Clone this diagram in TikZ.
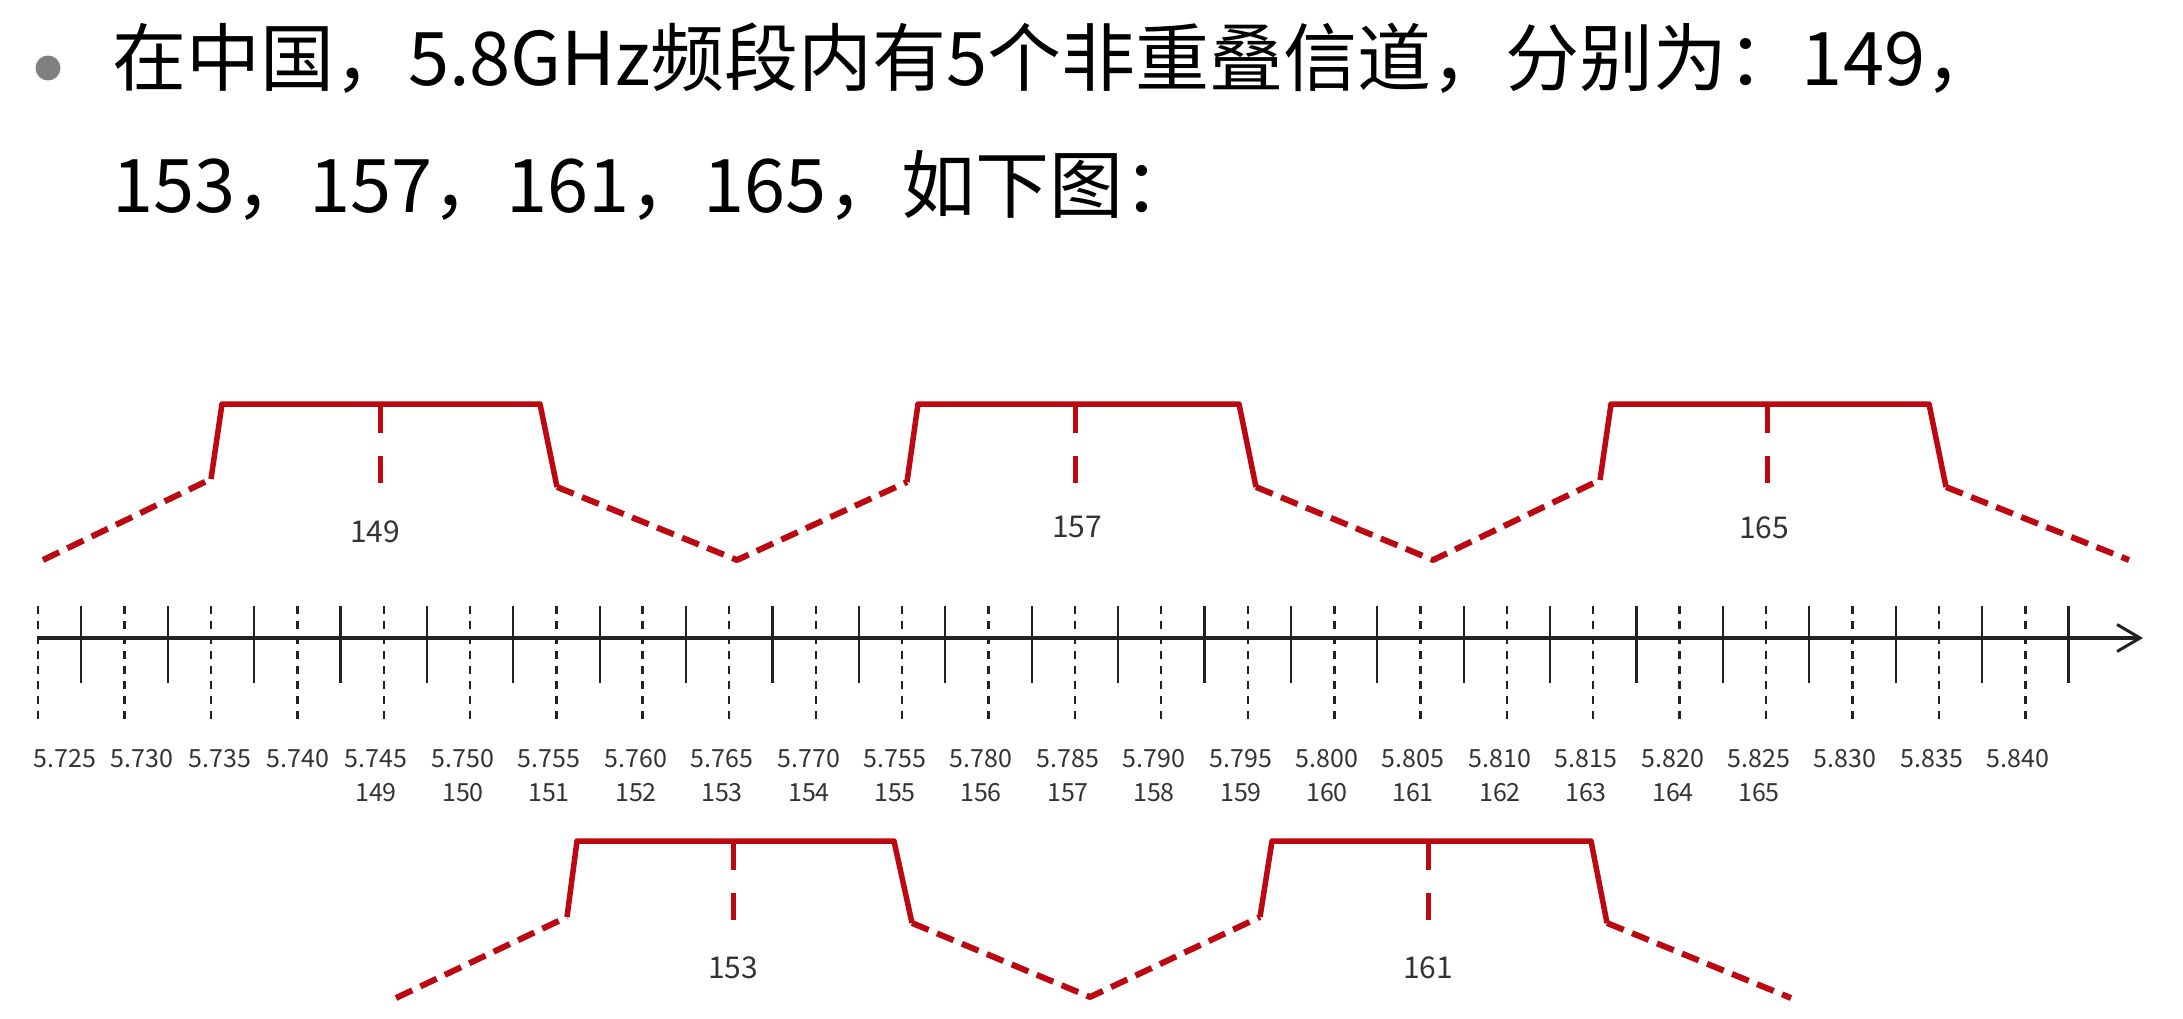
\documentclass[tikz,border=0pt]{standalone}
\usepackage{fontspec}
\setmainfont{Noto Sans CJK SC}
\usetikzlibrary{arrows.meta}
\definecolor{wred}{RGB}{188,8,16}
\definecolor{axisgray}{RGB}{34,34,34}
\definecolor{labelgray}{RGB}{51,51,51}
\definecolor{bulletgray}{RGB}{128,128,128}
\begin{document}
\begin{tikzpicture}[x=1pt,y=-1pt,
  bodytext/.style={anchor=base west, inner sep=0pt, font=\fontsize{74}{86}\selectfont, text=black},
  axisline/.style={draw=axisgray, line width=3.2pt},
  dtick/.style={draw=axisgray, line width=2.2pt, dash pattern=on 8pt off 7pt},
  dtickbold/.style={draw=axisgray, line width=3pt, dash pattern=on 8pt off 7pt},
  stick/.style={draw=axisgray, line width=2.2pt},
  flabel/.style={anchor=base, inner sep=0pt, font=\fontsize{25}{30}\selectfont, text=labelgray},
  blabel/.style={anchor=center, inner sep=0pt, font=\fontsize{30}{36}\selectfont, text=labelgray},
  rsolid/.style={draw=wred, line width=5.5pt, line join=round},
  rdash/.style={draw=wred, line width=6pt, dash pattern=on 18pt off 9pt, line join=round},
  rcdash/.style={draw=wred, line width=5pt, dash pattern=on 29pt off 23pt on 40pt}
]
\useasboundingbox (0,0) rectangle (2183,1019);
\fill[white] (0,0) rectangle (2183,1019);

% bullet and heading text
\fill[bulletgray] (48,68) circle (12.5);
\node[bodytext] (line1) at (112,86) {在中国，5.8GHz频段内有5个非重叠信道，分别为：149，};
\node[bodytext] (line2) at (112,212) {153，157，161，165，如下图：};

% axis
\coordinate (axstart) at (38,638);
\coordinate (axend) at (2143,638);
\draw[axisline, -{Straight Barb[length=23pt,width=27pt,line width=3pt]}] (axstart) -- (axend);
\foreach \i in {0,...,23} {
  \pgfmathsetmacro\tx{38+86.4*\i}
  \pgfmathtruncatemacro\md{mod(\i,4)}
  \ifnum\md=3
    \draw[dtickbold] (\tx,606) -- (\tx,723);
  \else
    \draw[dtick] (\tx,606) -- (\tx,723);
  \fi
  \draw[stick] (\tx+43.2,606) -- (\tx+43.2,683);
}

% frequency labels
\foreach \lx/\lab [count=\k] in {65/5.725,142/5.730,220/5.735,298/5.740,376/5.745,463/5.750,549/5.755,636/5.760,722/5.765,809/5.770,895/5.755,981/5.780,1068/5.785,1154/5.790,1241/5.795,1327/5.800,1413/5.805,1500/5.810,1586/5.815,1673/5.820,1759/5.825,1845/5.830,1932/5.835,2018/5.840} {
  \node[flabel] (f\k) at (\lx,767) {\lab};
}
% channel labels
\foreach \lx/\lab in {376/149,463/150,549/151,636/152,722/153,809/154,895/155,981/156,1068/157,1154/158,1241/159,1327/160,1413/161,1500/162,1586/163,1673/164,1759/165} {
  \node[flabel] (c\lab) at (\lx,801) {\lab};
}

% upper channel masks: 149, 157, 165
\draw[rdash] (43,560) -- (211,479);
\draw[rsolid] (211,479) -- (222,404) -- (540,404) -- (557,487);
\draw[rdash] (557,487) -- (737,560) -- (907,482);
\draw[rsolid] (907,482) -- (918,404) -- (1239,404) -- (1256,487);
\draw[rdash] (1256,487) -- (1433,560) -- (1600,480);
\draw[rsolid] (1600,480) -- (1611,404) -- (1929,404) -- (1946,487);
\draw[rdash] (1946,487) -- (2129,560);
\draw[rcdash] (380,404) -- (380,483);
\draw[rcdash] (1075,404) -- (1075,483);
\draw[rcdash] (1767,404) -- (1767,483);
\node[blabel] (m149) at (375,532) {149};
\node[blabel] (m157) at (1077,527) {157};
\node[blabel] (m165) at (1764,528) {165};

% lower channel masks: 153, 161
\draw[rdash] (396,998) -- (567,917);
\draw[rsolid] (567,917) -- (577,841) -- (894,841) -- (912,923);
\draw[rdash] (912,923) -- (1090,997) -- (1260,917);
\draw[rsolid] (1260,917) -- (1272,841) -- (1591,841) -- (1607,923);
\draw[rdash] (1607,923) -- (1791,998);
\draw[rcdash] (733,841) -- (733,920);
\draw[rcdash] (1428,841) -- (1428,920);
\node[blabel] (m153) at (733,968) {153};
\node[blabel] (m161) at (1428,968) {161};
\end{tikzpicture}
\end{document}
